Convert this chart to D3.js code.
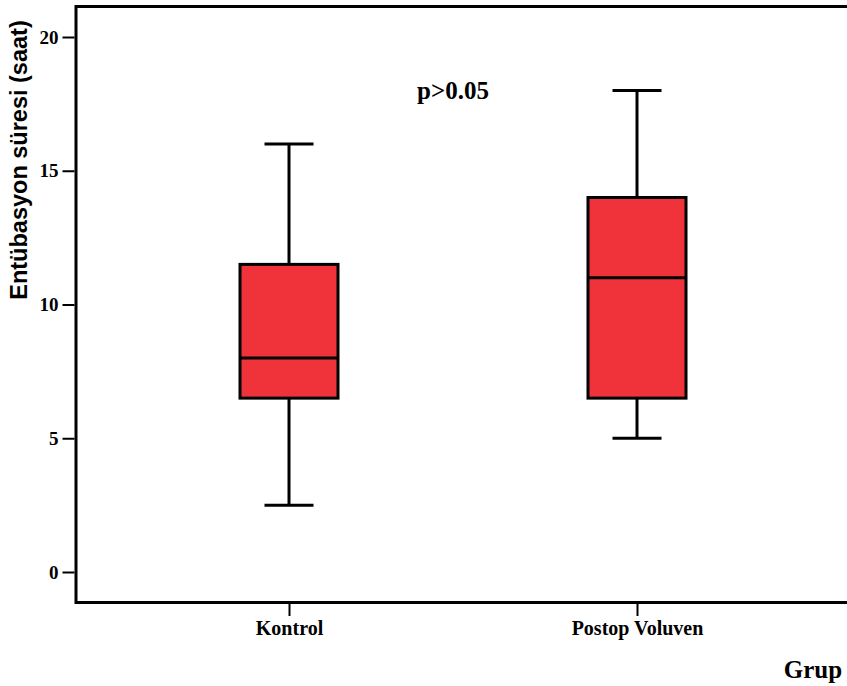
<!DOCTYPE html>
<html>
<head>
<meta charset="utf-8">
<script src="https://cdn.jsdelivr.net/npm/d3@7"></script>
<style>
  html, body { margin: 0; padding: 0; background: #fff; }
  svg { display: block; }
</style>
</head>
<body>
<svg id="chart" width="847" height="686"></svg>
<script>
// Group names and box-plot statistics (saat)
const groups = ["Kontrol", "Postop Voluven"];
const whiskerLow  = [2.5, 5];
const q1          = [6.5, 6.5];
const medians     = [8, 11];
const q3          = [11.5, 14];
const whiskerHigh = [16, 18];
const yTicks = [0, 5, 10, 15, 20];

const svg = d3.select("#chart");
const frame = { left: 76, top: 6.5, bottom: 602.5, right: 850 };

const x = d3.scalePoint().domain(groups).range([115, 811]).padding(0.5);
const y = d3.scaleLinear().domain([0, 20]).range([572, 37]);

const boxW = 98, capW = 49;
const serif = "'Liberation Serif', 'Times New Roman', serif";
const sans = "'Liberation Sans', Arial, sans-serif";

// Plot frame: left, top and bottom edges
svg.append("path")
  .attr("d", `M${frame.right},${frame.top}H${frame.left}V${frame.bottom}H${frame.right}`)
  .attr("fill", "none").attr("stroke", "#000").attr("stroke-width", 3);

// Y axis ticks and labels
const yAxis = svg.append("g")
  .attr("transform", `translate(${frame.left - 1.5},0)`)
  .call(d3.axisLeft(y).tickValues(yTicks).tickSize(12).tickPadding(4).tickFormat(d3.format("d")));
yAxis.select(".domain").remove();
yAxis.selectAll(".tick line").attr("stroke", "#000").attr("stroke-width", 2);
yAxis.selectAll(".tick text")
  .attr("font-family", serif).attr("font-weight", "bold").attr("font-size", 19).attr("fill", "#000");

// X axis ticks and labels
const xAxis = svg.append("g")
  .attr("transform", `translate(0,${frame.bottom + 1.5})`)
  .call(d3.axisBottom(x).tickSize(12).tickPadding(5));
xAxis.select(".domain").remove();
xAxis.selectAll(".tick line").attr("stroke", "#000").attr("stroke-width", 2);
xAxis.selectAll(".tick text")
  .attr("font-family", serif).attr("font-weight", "bold").attr("font-size", 20).attr("fill", "#000");

// Box plots
const data = groups.map((g, i) => ({
  g, lo: whiskerLow[i], q1: q1[i], med: medians[i], q3: q3[i], hi: whiskerHigh[i]
}));
const box = svg.append("g").selectAll("g").data(data).join("g");

box.append("line")
  .attr("x1", d => x(d.g)).attr("x2", d => x(d.g))
  .attr("y1", d => y(d.hi)).attr("y2", d => y(d.q3))
  .attr("stroke", "#000").attr("stroke-width", 3);
box.append("line")
  .attr("x1", d => x(d.g)).attr("x2", d => x(d.g))
  .attr("y1", d => y(d.q1)).attr("y2", d => y(d.lo))
  .attr("stroke", "#000").attr("stroke-width", 3);
box.selectAll("line.cap").data(d => [[d.g, d.lo], [d.g, d.hi]]).join("line")
  .attr("class", "cap")
  .attr("x1", d => x(d[0]) - capW / 2).attr("x2", d => x(d[0]) + capW / 2)
  .attr("y1", d => y(d[1])).attr("y2", d => y(d[1]))
  .attr("stroke", "#000").attr("stroke-width", 3);
box.append("rect")
  .attr("x", d => x(d.g) - boxW / 2).attr("width", boxW)
  .attr("y", d => y(d.q3)).attr("height", d => y(d.q1) - y(d.q3))
  .attr("fill", "#F0333A").attr("stroke", "#000").attr("stroke-width", 3);
box.append("line")
  .attr("x1", d => x(d.g) - boxW / 2).attr("x2", d => x(d.g) + boxW / 2)
  .attr("y1", d => y(d.med)).attr("y2", d => y(d.med))
  .attr("stroke", "#000").attr("stroke-width", 3);

// Annotation
svg.append("text")
  .attr("x", 453).attr("y", 99).attr("text-anchor", "middle")
  .attr("font-family", serif).attr("font-weight", "bold").attr("font-size", 25)
  .text("p>0.05");

// Axis titles
svg.append("text")
  .attr("transform", "translate(27,160) rotate(-90)")
  .attr("text-anchor", "middle")
  .attr("font-family", sans).attr("font-weight", "bold").attr("font-size", 23.5)
  .text("Entübasyon süresi (saat)");

svg.append("text")
  .attr("x", 813).attr("y", 678).attr("text-anchor", "middle")
  .attr("font-family", serif).attr("font-weight", "bold").attr("font-size", 25)
  .text("Grup");
</script>
</body>
</html>
